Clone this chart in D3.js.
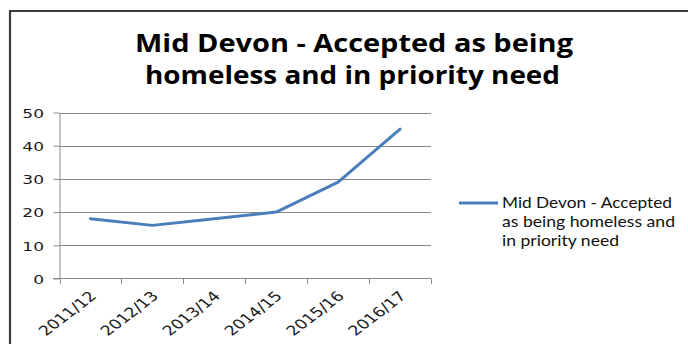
<!DOCTYPE html>
<html><head><meta charset="utf-8">
<script src="https://cdn.jsdelivr.net/npm/d3@7"></script>
<style>html,body{margin:0;padding:0;background:#fff;}svg{display:block}</style>
</head><body>
<script>
// Households accepted as homeless and in priority need, Mid Devon
const categories = ["2011/12", "2012/13", "2013/14", "2014/15", "2015/16", "2016/17"];
const values = [18, 16, 18, 20, 29, 45];
const yTicks = [0, 10, 20, 30, 40, 50];
const titleLines = ["Mid Devon - Accepted as being", "homeless and in priority need"];
const legendLines = ["Mid Devon - Accepted", "as being homeless and", "in priority need"];

const W = 688, H = 344;
const stretch = 1.3; // labels are drawn slightly wide
const svg = d3.select("body").append("svg").attr("width", W).attr("height", H);

// chart frame (top and left edges visible)
svg.append("path").attr("d", "M10,344V11H688")
  .attr("fill", "none").attr("stroke", "#3a3a3a").attr("stroke-width", 2.2);

// title
const titleLen = [438, 415];
const titleX = [354, 352.5];
svg.append("g").selectAll("text").data(titleLines).join("text")
  .attr("x", (d, i) => titleX[i]).attr("y", (d, i) => 52 + i * 32)
  .attr("text-anchor", "middle")
  .attr("font-family", "'Open Sans', Lato, sans-serif")
  .attr("font-weight", 700).attr("font-size", 25.5).attr("fill", "#000")
  .attr("textLength", (d, i) => titleLen[i]).attr("lengthAdjust", "spacingAndGlyphs")
  .text(d => d);

const x = d3.scaleBand().domain(categories).range([59.5, 431]);
const y = d3.scaleLinear().domain([0, 50]).range([278.5, 112.5]);
const bw = x.bandwidth();

// horizontal gridlines
svg.append("g").selectAll("line").data(yTicks.filter(d => d > 0)).join("line")
  .attr("x1", 59.5).attr("x2", 431)
  .attr("y1", d => Math.round(y(d)) + 0.5).attr("y2", d => Math.round(y(d)) + 0.5)
  .attr("stroke", "#8a8a8a").attr("stroke-width", 1);

// y axis
const yAxis = svg.append("g").attr("transform", "translate(59.5,0)")
  .call(d3.axisLeft(y).tickValues(yTicks).tickSize(6).tickSizeOuter(0).tickFormat(d3.format("d")));
yAxis.select(".domain").attr("stroke", "#8a8a8a");
yAxis.selectAll(".tick line").attr("stroke", "#8a8a8a");
yAxis.selectAll(".tick text")
  .attr("x", 0).attr("dy", "0.36em")
  .attr("transform", `translate(-15.5,0.5) scale(1.42,1)`)
  .attr("font-family", "'DejaVu Sans', Verdana, sans-serif")
  .attr("font-size", 12).attr("fill", "#1a1a1a");

// x axis: baseline and boundary ticks between categories
const xAxis = svg.append("g");
xAxis.append("line").attr("x1", 53).attr("x2", 431)
  .attr("y1", 278.5).attr("y2", 278.5).attr("stroke", "#8a8a8a");
const bounds = categories.map(c => x(c)).concat([x.range()[1]]);
xAxis.selectAll("line.tk").data(bounds).join("line").attr("class", "tk")
  .attr("x1", d => Math.round(d) + 0.5).attr("x2", d => Math.round(d) + 0.5)
  .attr("y1", 278.5).attr("y2", 284).attr("stroke", "#8a8a8a");
xAxis.selectAll("text").data(categories).join("text")
  .attr("text-anchor", "end")
  .attr("transform", d => `translate(${x(d) + bw / 2 + 7},297) scale(${stretch},1) rotate(-45)`)
  .attr("font-family", "'DejaVu Sans', Verdana, sans-serif")
  .attr("font-size", 13.5).attr("fill", "#1a1a1a")
  .text(d => d);

// series line
const line = d3.line().x((d, i) => x(categories[i]) + bw / 2).y(d => y(d));
svg.append("path").datum(values)
  .attr("d", line)
  .attr("fill", "none").attr("stroke", "#4a7ebb").attr("stroke-width", 3)
  .attr("stroke-linejoin", "round").attr("stroke-linecap", "round");

// legend
const legend = svg.append("g");
legend.append("line").attr("x1", 459).attr("x2", 498).attr("y1", 203).attr("y2", 203)
  .attr("stroke", "#4a7ebb").attr("stroke-width", 3);
const legLen = [170, 173, 117];
legend.selectAll("text").data(legendLines).join("text")
  .attr("x", 502).attr("y", (d, i) => 208 + i * 18.8)
  .attr("font-family", "Lato, 'Open Sans', sans-serif")
  .attr("font-size", 15).attr("fill", "#111")
  .attr("textLength", (d, i) => legLen[i]).attr("lengthAdjust", "spacingAndGlyphs")
  .text(d => d);
</script>
</body></html>
